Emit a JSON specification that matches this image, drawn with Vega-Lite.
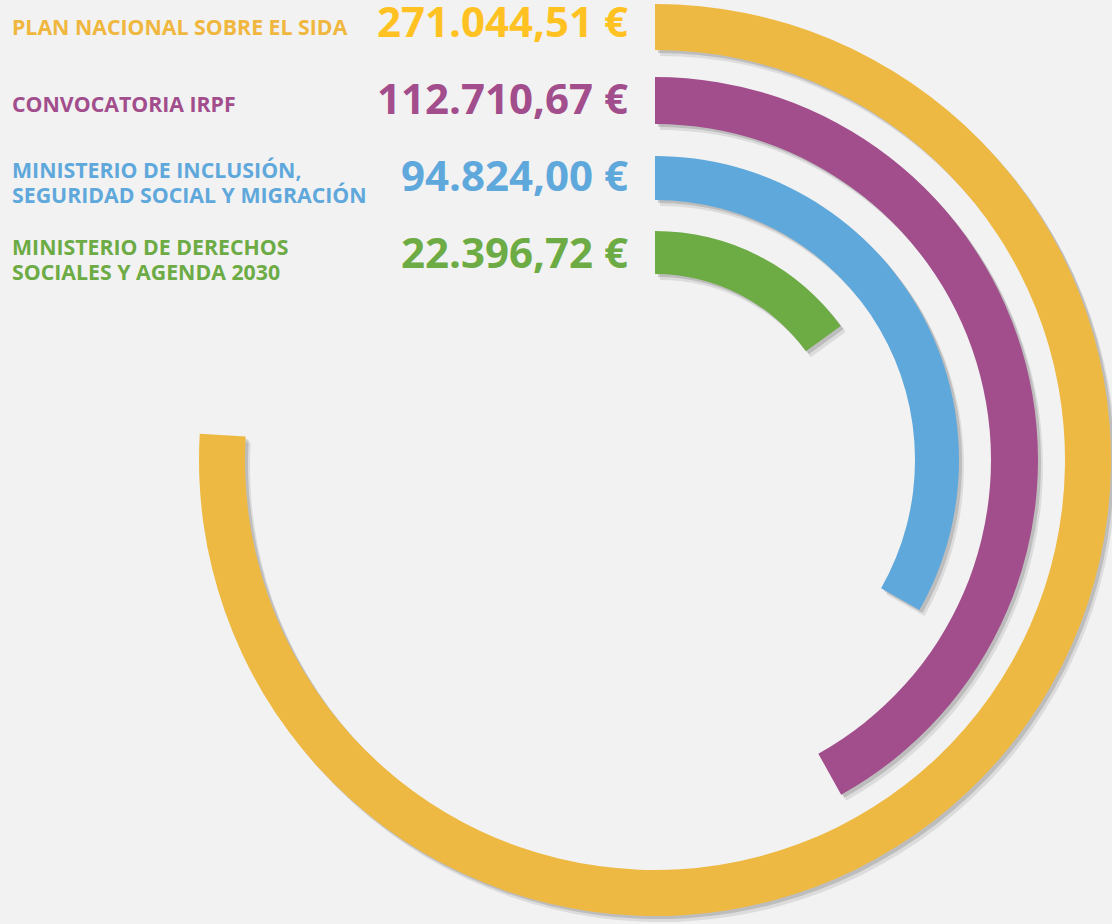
{
  "$schema": "https://vega.github.io/schema/vega-lite/v6.json",
  "width": 914,
  "height": 920,
  "autosize": {"type": "none"},
  "padding": {"left": 198, "top": 0, "right": 0, "bottom": 4},
  "background": "#f2f2f2",
  "config": {
    "view": {"stroke": null},
    "font": "Open Sans",
    "locale": {"number": {"decimal": ",", "thousands": ".", "grouping": [3], "currency": ["", " €"]}}
  },
  "data": {
    "values": [
      {"fuente": "PLAN NACIONAL SOBRE EL SIDA", "importe": 271044.51},
      {"fuente": "CONVOCATORIA IRPF", "importe": 112710.67},
      {"fuente": "MINISTERIO DE INCLUSIÓN,\nSEGURIDAD SOCIAL Y MIGRACIÓN", "importe": 94824.00},
      {"fuente": "MINISTERIO DE DERECHOS\nSOCIALES Y AGENDA 2030", "importe": 22396.72}
    ]
  },
  "layer": [
    {
      "encoding": {
        "theta": {
          "field": "importe",
          "type": "quantitative",
          "stack": null,
          "scale": {"domain": [0, 22396.72, 94824, 112710.67, 271044.51], "range": [0, 0.946, 2.087, 2.634, 4.770], "nice": false, "zero": false}
        },
        "theta2": {"datum": 0}
      },
      "layer": [
        {
          "transform": [{"filter": {"field": "fuente", "equal": "PLAN NACIONAL SOBRE EL SIDA"}}],
          "layer": [
            {"mark": {"type": "arc", "radius": 456, "radius2": 410, "color": "#000000", "opacity": 0.09, "xOffset": 5, "yOffset": 6}},
            {"mark": {"type": "arc", "radius": 456, "radius2": 410, "color": "#000000", "opacity": 0.14, "xOffset": 3, "yOffset": 3}},
            {"mark": {"type": "arc", "radius": 456, "radius2": 410, "color": "#EEB943"}}
          ]
        },
        {
          "transform": [{"filter": {"field": "fuente", "equal": "CONVOCATORIA IRPF"}}],
          "layer": [
            {"mark": {"type": "arc", "radius": 383, "radius2": 336, "color": "#000000", "opacity": 0.09, "xOffset": 5, "yOffset": 6}},
            {"mark": {"type": "arc", "radius": 383, "radius2": 336, "color": "#000000", "opacity": 0.14, "xOffset": 3, "yOffset": 3}},
            {"mark": {"type": "arc", "radius": 383, "radius2": 336, "color": "#A24D8C"}}
          ]
        },
        {
          "transform": [{"filter": {"field": "fuente", "equal": "MINISTERIO DE INCLUSIÓN,\nSEGURIDAD SOCIAL Y MIGRACIÓN"}}],
          "layer": [
            {"mark": {"type": "arc", "radius": 304, "radius2": 260, "color": "#000000", "opacity": 0.09, "xOffset": 5, "yOffset": 6}},
            {"mark": {"type": "arc", "radius": 304, "radius2": 260, "color": "#000000", "opacity": 0.14, "xOffset": 3, "yOffset": 3}},
            {"mark": {"type": "arc", "radius": 304, "radius2": 260, "color": "#5FA8DC"}}
          ]
        },
        {
          "transform": [{"filter": {"field": "fuente", "equal": "MINISTERIO DE DERECHOS\nSOCIALES Y AGENDA 2030"}}],
          "layer": [
            {"mark": {"type": "arc", "radius": 229, "radius2": 186, "color": "#000000", "opacity": 0.09, "xOffset": 5, "yOffset": 6}},
            {"mark": {"type": "arc", "radius": 229, "radius2": 186, "color": "#000000", "opacity": 0.14, "xOffset": 3, "yOffset": 3}},
            {"mark": {"type": "arc", "radius": 229, "radius2": 186, "color": "#6DAB45"}}
          ]
        }
      ]
    },
    {
      "transform": [{"filter": "indexof(datum.fuente, '\\n') < 0"}],
      "mark": {"type": "text", "align": "left", "baseline": "middle", "x": -186, "dy": 5, "fontSize": 21.3, "fontWeight": "bold", "lineBreak": "\n", "lineHeight": 25, "font": "Open Sans"},
      "encoding": {
        "y": {"field": "fuente", "type": "nominal", "axis": null, "scale": {"type": "point", "domain": ["PLAN NACIONAL SOBRE EL SIDA", "CONVOCATORIA IRPF", "MINISTERIO DE INCLUSIÓN,\nSEGURIDAD SOCIAL Y MIGRACIÓN", "MINISTERIO DE DERECHOS\nSOCIALES Y AGENDA 2030"], "range": [24, 255], "padding": 0}},
        "text": {"field": "fuente", "type": "nominal"},
        "color": {"field": "fuente", "type": "nominal", "legend": null, "scale": {"domain": ["PLAN NACIONAL SOBRE EL SIDA", "CONVOCATORIA IRPF", "MINISTERIO DE INCLUSIÓN,\nSEGURIDAD SOCIAL Y MIGRACIÓN", "MINISTERIO DE DERECHOS\nSOCIALES Y AGENDA 2030"], "range": ["#F0B73F", "#A24D8C", "#5FA8DC", "#6DAB45"]}}
      }
    },
    {
      "transform": [{"filter": "indexof(datum.fuente, '\\n') >= 0"}],
      "mark": {"type": "text", "align": "left", "baseline": "middle", "x": -186, "dy": -6, "fontSize": 21.3, "fontWeight": "bold", "lineBreak": "\n", "lineHeight": 25, "font": "Open Sans"},
      "encoding": {
        "y": {"field": "fuente", "type": "nominal", "axis": null, "scale": {"type": "point", "domain": ["PLAN NACIONAL SOBRE EL SIDA", "CONVOCATORIA IRPF", "MINISTERIO DE INCLUSIÓN,\nSEGURIDAD SOCIAL Y MIGRACIÓN", "MINISTERIO DE DERECHOS\nSOCIALES Y AGENDA 2030"], "range": [24, 255], "padding": 0}},
        "text": {"field": "fuente", "type": "nominal"},
        "color": {"field": "fuente", "type": "nominal", "legend": null, "scale": {"domain": ["PLAN NACIONAL SOBRE EL SIDA", "CONVOCATORIA IRPF", "MINISTERIO DE INCLUSIÓN,\nSEGURIDAD SOCIAL Y MIGRACIÓN", "MINISTERIO DE DERECHOS\nSOCIALES Y AGENDA 2030"], "range": ["#F0B73F", "#A24D8C", "#5FA8DC", "#6DAB45"]}}
      }
    },
    {
      "mark": {"type": "text", "align": "right", "baseline": "middle", "x": 430, "dy": 0, "fontSize": 42, "fontWeight": "bold", "font": "Open Sans"},
      "encoding": {
        "y": {"field": "fuente", "type": "nominal", "axis": null, "scale": {"type": "point", "domain": ["PLAN NACIONAL SOBRE EL SIDA", "CONVOCATORIA IRPF", "MINISTERIO DE INCLUSIÓN,\nSEGURIDAD SOCIAL Y MIGRACIÓN", "MINISTERIO DE DERECHOS\nSOCIALES Y AGENDA 2030"], "range": [24, 255], "padding": 0}},
        "text": {"field": "importe", "type": "quantitative", "format": "$,.2f"},
        "fill": {"field": "fuente", "type": "nominal", "legend": null, "scale": {"domain": ["PLAN NACIONAL SOBRE EL SIDA", "CONVOCATORIA IRPF", "MINISTERIO DE INCLUSIÓN,\nSEGURIDAD SOCIAL Y MIGRACIÓN", "MINISTERIO DE DERECHOS\nSOCIALES Y AGENDA 2030"], "range": ["#FFC222", "#A24D8C", "#5FA8DC", "#6DAB45"]}}
      }
    }
  ]
}
